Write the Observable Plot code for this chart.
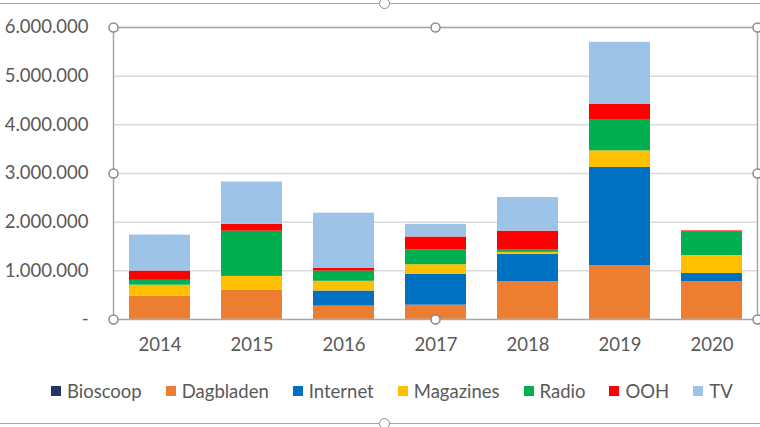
<!DOCTYPE html>
<html>
<head>
<meta charset="utf-8">
<script src="https://cdn.jsdelivr.net/npm/d3@7"></script>
<script src="https://cdn.jsdelivr.net/npm/@observablehq/plot@0.6"></script>
<style>
  html, body { margin: 0; padding: 0; background: #fff; }
  #wrap { position: relative; width: 760px; height: 427px; overflow: hidden; font-family: Lato, sans-serif; background: #fff; }
  #chart { position: absolute; left: 0; top: 0; }
  .outer-line { position: absolute; left: 0; width: 760px; height: 0; border-top: 1.5px solid #a6a6a6; z-index: 2; }
  .outer-handle { position: absolute; width: 9px; height: 9px; border-radius: 50%; border: 1.5px solid #8c8c8c; background: #fff; z-index: 3; }
  #legend { position: absolute; left: 51px; top: 380px; display: flex; gap: 24px; font-size: 18.5px; color: #595959; line-height: 22px; white-space: nowrap; }
  .item { display: flex; align-items: center; gap: 6px; }
  .sw { width: 10px; height: 10px; display: inline-block; }
</style>
</head>
<body>
<div id="wrap">
  <div id="chart"></div>
  <div class="outer-line" style="top:3px"></div>
  <div class="outer-line" style="top:423px"></div>
  <div class="outer-handle" style="left:379px; top:-2px"></div>
  <div class="outer-handle" style="left:379px; top:418px"></div>
  <div id="legend"></div>
</div>
<script>
const years = ["2014", "2015", "2016", "2017", "2018", "2019", "2020"];
const series = ["Bioscoop", "Dagbladen", "Internet", "Magazines", "Radio", "OOH", "TV"];
const colors = ["#1f3864", "#ed7d31", "#0070c0", "#ffc000", "#00b050", "#ff0000", "#9dc3e6"];

const Bioscoop  = [5000, 5000, 5000, 5000, 5000, 5000, 5000];
const Dagbladen = [470000, 600000, 270000, 290000, 770000, 1100000, 770000];
const Internet  = [0, 0, 310000, 630000, 560000, 2020000, 170000];
const Magazines = [230000, 280000, 200000, 200000, 45000, 340000, 370000];
const Radio     = [100000, 930000, 210000, 310000, 45000, 630000, 480000];
const OOH       = [190000, 140000, 60000, 260000, 390000, 330000, 25000];
const TV        = [740000, 870000, 1130000, 260000, 690000, 1270000, 0];

const yTicks = [0, 1000000, 2000000, 3000000, 4000000, 5000000, 6000000];

const valuesBySeries = { Bioscoop, Dagbladen, Internet, Magazines, Radio, OOH, TV };
const rows = [];
series.forEach(s => years.forEach((yr, i) => rows.push({ year: yr, series: s, value: valuesBySeries[s][i] })));

const nl = d3.formatLocale({ decimal: ",", thousands: ".", grouping: [3], currency: ["€", ""] });
const fmt = nl.format(",");

const grid = "#d9d9d9";
const frameColor = "#a6a6a6";
const handle = { r: 4.5, fill: "white", stroke: "#8c8c8c", strokeWidth: 1.5 };
const anchors = ["top-left", "top", "top-right", "left", "right", "bottom-left", "bottom", "bottom-right"];

const plot = Plot.plot({
  width: 760,
  height: 370,
  marginTop: 27,
  marginBottom: 51,
  marginLeft: 113,
  marginRight: 3,
  style: { fontFamily: "Lato, sans-serif", fontSize: "18.5px", color: "#595959", background: "white", overflow: "visible" },
  x: { domain: years, paddingInner: 0.34, paddingOuter: 0.17, label: null },
  y: { domain: [0, 6000000], label: null },
  color: { domain: series, range: colors },
  marks: [
    Plot.ruleY(yTicks.slice(1), { stroke: grid, strokeWidth: 1.5 }),
    Plot.barY(rows, { x: "year", y: "value", fill: "series", order: series }),
    Plot.axisY({ ticks: yTicks, tickFormat: d => d === 0 ? "-" : fmt(d), tickSize: 0, tickPadding: 25, label: null, fill: "#595959" }),
    Plot.axisX({ tickSize: 0, tickPadding: 18, label: null, fill: "#595959" }),
    Plot.frame({ stroke: frameColor, strokeWidth: 1.5 }),
    ...anchors.map(a => Plot.dot([0], { frameAnchor: a, ...handle }))
  ]
});
document.getElementById("chart").appendChild(plot);

const legend = document.getElementById("legend");
series.forEach((s, i) => {
  const it = document.createElement("div");
  it.className = "item";
  const sw = document.createElement("span");
  sw.className = "sw";
  sw.style.background = colors[i];
  const t = document.createElement("span");
  t.textContent = s;
  it.appendChild(sw);
  it.appendChild(t);
  legend.appendChild(it);
});
</script>
</body>
</html>
